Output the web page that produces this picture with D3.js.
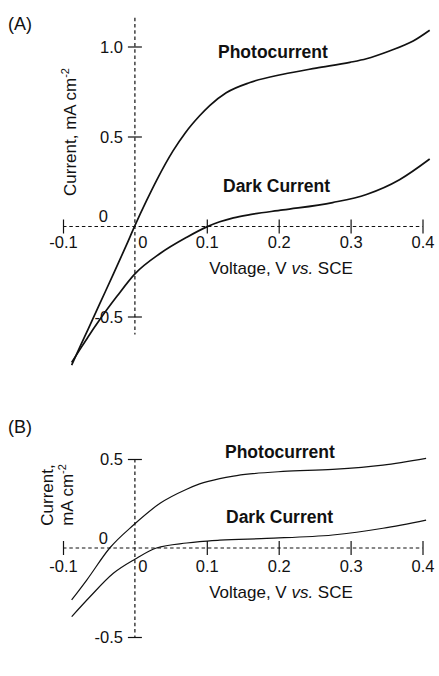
<!DOCTYPE html>
<html>
<head>
<meta charset="utf-8">
<script src="https://cdn.jsdelivr.net/npm/d3@7"></script>
<style>
  body { margin: 0; background: #fff; }
  text { font-family: "Liberation Sans", Arial, Helvetica, sans-serif; fill: #111; }
</style>
</head>
<body>
<div id="chart"></div>
<script>
// tick values shared by both panels
var xTicks = [-0.1, 0, 0.1, 0.2, 0.3, 0.4];
var yTicksA = [-0.5, 0, 0.5, 1.0];
var yTicksB = [-0.5, 0, 0.5];

// [voltage (V vs SCE), current (mA cm-2)]
var photoA = [[-0.088,-0.77],[-0.076,-0.665],[-0.065,-0.57],[-0.049,-0.43],[-0.030,-0.265],
  [-0.012,-0.105],[0.0,0.005],[0.016,0.142],[0.030,0.255],[0.053,0.42],[0.07,0.52],
  [0.09,0.615],[0.104,0.672],[0.127,0.743],[0.16,0.8],[0.206,0.846],[0.252,0.88],
  [0.299,0.912],[0.322,0.932],[0.354,0.975],[0.387,1.03],[0.41,1.09]];
var darkA = [[-0.088,-0.755],[-0.081,-0.712],[-0.065,-0.612],[-0.049,-0.518],[-0.025,-0.388],
  [0.0,-0.263],[0.035,-0.15],[0.072,-0.06],[0.1,-0.002],[0.118,0.026],[0.137,0.048],
  [0.16,0.066],[0.206,0.092],[0.275,0.133],[0.322,0.178],[0.368,0.26],[0.41,0.375]];
var photoB = [[-0.088,-0.292],[-0.067,-0.18],[-0.035,0.0],[-0.002,0.129],[0.035,0.251],
  [0.072,0.33],[0.09,0.36],[0.118,0.39],[0.137,0.404],[0.16,0.416],[0.206,0.43],
  [0.275,0.442],[0.345,0.466],[0.405,0.504]];
var darkB = [[-0.088,-0.386],[-0.0625,-0.274],[-0.030,-0.142],[0.0,-0.063],[0.030,0.0],
  [0.072,0.028],[0.09,0.036],[0.118,0.044],[0.183,0.054],[0.275,0.073],[0.345,0.111],
  [0.405,0.157]];

var width = 439, height = 676;

var svg = d3.select('#chart')
  .append('svg')
    .attr('width', width)
    .attr('height', height);

var x = d3.scaleLinear().domain([-0.1, 0.4]).range([63, 422.5]);

function fmt(d) { return d === 0 ? "0" : d.toFixed(1); }

function drawPanel(p) {
  var g = svg.append("g");
  var y = d3.scaleLinear().domain([-0.5, p.yTicks[p.yTicks.length - 1]]).range(p.yRange);

  // dashed axis lines through the origin
  g.append("line")
    .attr("x1", x(-0.1)).attr("x2", x(0.4))
    .attr("y1", y(0)).attr("y2", y(0))
    .attr("stroke", "#111").attr("stroke-width", 1.2)
    .attr("stroke-dasharray", "3.5,2.8");
  g.append("line")
    .attr("x1", x(0)).attr("x2", x(0))
    .attr("y1", y(p.vExtent[1])).attr("y2", y(p.vExtent[0]))
    .attr("stroke", "#111").attr("stroke-width", 1.2)
    .attr("stroke-dasharray", "3.5,2.8");

  // x axis ticks + labels
  var xa = g.append("g")
    .attr("transform", "translate(0," + y(0) + ")")
    .call(d3.axisBottom(x).tickValues(xTicks).tickFormat(fmt));
  xa.select(".domain").remove();
  xa.selectAll(".tick line")
    .attr("y1", -7).attr("y2", 7)
    .attr("stroke", "#111").attr("stroke-width", 1.2)
    .filter(function(d) { return d === 0; }).remove();
  xa.selectAll(".tick text")
    .attr("y", p.xLabelDy).attr("dy", 0)
    .attr("x", function(d) { return d === 0 ? 7.5 : 0; })
    .attr("font-size", "16.5px").attr("fill", "#111");

  // y axis ticks + labels
  var ya = g.append("g")
    .attr("transform", "translate(" + x(0) + ",0)")
    .call(d3.axisLeft(y).tickValues(p.yTicks).tickFormat(fmt));
  ya.select(".domain").remove();
  ya.selectAll(".tick line")
    .attr("x1", -7).attr("x2", 7)
    .attr("stroke", "#111").attr("stroke-width", 1.2)
    .filter(function(d) { return d === 0; }).remove();
  ya.selectAll(".tick text")
    .attr("x", function(d) { return d === 0 ? -27 : -12; })
    .attr("dy", function(d) { return d === 0 ? "-0.3em" : "0.36em"; })
    .attr("font-size", "16.5px").attr("fill", "#111");
  xa.attr("font-family", null);
  ya.attr("font-family", null);

  // curves
  var line = d3.line()
    .x(function(d) { return x(d[0]); })
    .y(function(d) { return y(d[1]); })
    .curve(d3.curveMonotoneX);
  [p.photo, p.dark].forEach(function(s) {
    g.append("path")
      .datum(s)
      .attr("d", line)
      .attr("fill", "none")
      .attr("stroke", "#111")
      .attr("stroke-width", p.lineWidth)
      .attr("stroke-linejoin", "round");
  });

  // series labels
  g.append("text").attr("x", p.photoLabel[0]).attr("y", p.photoLabel[1])
    .attr("font-size", "17.5px").attr("font-weight", "bold").text("Photocurrent");
  g.append("text").attr("x", p.darkLabel[0]).attr("y", p.darkLabel[1])
    .attr("font-size", "17.5px").attr("font-weight", "bold").text("Dark Current");

  // panel tag
  g.append("text").attr("x", 8).attr("y", p.tagY)
    .attr("font-size", "18px").text(p.tag);

  // x title
  var xt = g.append("text")
    .attr("x", 281).attr("y", p.xTitleY)
    .attr("text-anchor", "middle").attr("font-size", "17px");
  xt.append("tspan").text("Voltage, V ");
  xt.append("tspan").attr("font-style", "italic").text("vs.");
  xt.append("tspan").text(" SCE");

  // y title (rotated)
  p.yTitle.forEach(function(t) {
    var yt = g.append("text")
      .attr("transform", "translate(" + t.x + "," + p.yTitleMid + ") rotate(-90)")
      .attr("text-anchor", "middle").attr("font-size", "17px");
    yt.append("tspan").text(t.text);
    if (t.sup) {
      yt.append("tspan").attr("dy", -7).attr("font-size", "11px").text("-2");
    }
  });
}

drawPanel({
  tag: "(A)", tagY: 29.5,
  yTicks: yTicksA, yRange: [316.5, 46.5], vExtent: [-0.6, 1.16],
  photo: photoA, dark: darkA, lineWidth: 1.7,
  xLabelDy: 21.5, xTitleY: 274,
  photoLabel: [218, 58], darkLabel: [223, 192],
  yTitleMid: 132,
  yTitle: [{ x: 76, text: "Current, mA cm", sup: true }]
});

drawPanel({
  tag: "(B)", tagY: 432.5,
  yTicks: yTicksB, yRange: [637, 459], vExtent: [-0.5, 0.5],
  photo: photoB, dark: darkB, lineWidth: 1.2,
  xLabelDy: 23.5, xTitleY: 598,
  photoLabel: [225, 458], darkLabel: [226, 523],
  yTitleMid: 495,
  yTitle: [{ x: 52.5, text: "Current,", sup: false }, { x: 72.5, text: "mA cm", sup: true }]
});
</script>
</body>
</html>
